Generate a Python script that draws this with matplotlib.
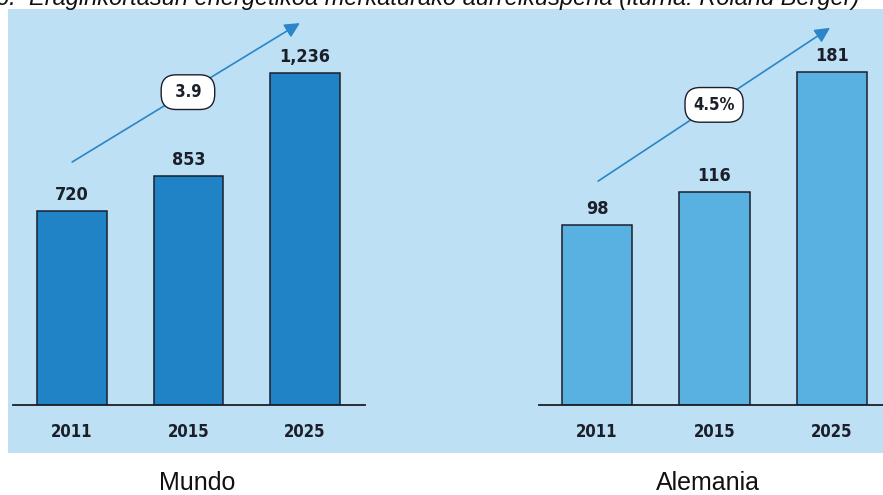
import matplotlib.pyplot as plt
from matplotlib.patches import Rectangle

# ── Data ──────────────────────────────────────────────────
years = ["2011", "2015", "2025"]
mundo = [720, 853, 1236]
alemania = [98, 116, 181]
mundo_growth = "3.9"
alemania_growth = "4.5%"
mundo_labels = ["720", "853", "1,236"]
alemania_labels = ["98", "116", "181"]

TITLE = "6.  Eraginkortasun energetikoa merkaturako aurreikuspena (iturria: Roland Berger)"

BG = "#bde0f4"
DARK = "#1b1f2a"
ARROW = "#2a86c8"
COND = dict(family="DejaVu Sans", fontstretch="condensed")

W, H = 883, 495
fig = plt.figure(figsize=(W / 100, H / 100), dpi=100)
fig.patch.set_facecolor("white")

def fx(px):
    return px / W

def fy(py):
    return 1 - py / H

# light blue panel behind both charts
fig.add_artist(Rectangle((fx(8), fy(453)), fx(875), (453 - 9) / H,
                         transform=fig.transFigure, facecolor=BG,
                         edgecolor="none", zorder=0))

fig.text(fx(-4), fy(5), TITLE, fontsize=17, style="italic",
         family="Liberation Sans", color="#111111", ha="left", va="baseline")


def panel(x0, x1, vals, labels, color, ytop, xmin, xmax, growth, arrow, box):
    ax = fig.add_axes([fx(x0), fy(405), fx(x1 - x0), (405 - 8) / H])
    ax.set_facecolor("none")
    x = range(len(vals))
    ax.bar(x, vals, width=0.6, color=color, edgecolor=DARK, linewidth=1.1,
           zorder=2)
    for xi, v, lab in zip(x, vals, labels):
        ax.annotate(lab, (xi, v), xytext=(0, 5), textcoords="offset points",
                    ha="center", va="bottom", fontsize=13, fontweight="semibold",
                    color=DARK, **COND)
    ax.set_xlim(xmin, xmax)
    ax.set_ylim(0, ytop)
    for s in ["top", "right", "left"]:
        ax.spines[s].set_visible(False)
    ax.spines["bottom"].set_color(DARK)
    ax.spines["bottom"].set_linewidth(1.3)
    ax.set_yticks([])
    ax.set_xticks(list(x))
    ax.set_xticklabels(years, fontsize=12, fontweight="semibold", color=DARK,
                       **COND)
    ax.tick_params(axis="x", length=0, pad=13)

    (sx, sy), (ex, ey) = arrow
    ax.annotate("", xy=(ex, ey), xytext=(sx, sy), xycoords="axes fraction",
                textcoords="axes fraction",
                arrowprops=dict(arrowstyle="-|>,head_length=0.9,head_width=0.45",
                                color=ARROW, lw=1.2, shrinkA=0, shrinkB=0),
                zorder=3)
    ax.text(box[0], box[1], growth, transform=ax.transAxes, ha="center",
            va="center", fontsize=12, fontweight="semibold", color=DARK,
            zorder=4,
            bbox=dict(boxstyle="round,pad=0.5,rounding_size=0.9",
                      facecolor="white", edgecolor=DARK, linewidth=1.0),
            **COND)
    return ax


# Mundo: 0.269 px per unit
panel(13, 365, mundo, mundo_labels, "#2083c6", 397 / 0.2690,
      -0.506, 2.515, " " + mundo_growth + " ",
      ((0.168, 0.612), (0.815, 0.962)), (0.497, 0.788))

# Alemania: 1.84 px per unit
panel(539, 883, alemania, alemania_labels, "#58b1e0", 397 / 1.840,
      -0.494, 2.434, alemania_growth,
      ((0.172, 0.564), (0.846, 0.950)), (0.509, 0.756))

fig.text(fx(197), fy(483), "Mundo", fontsize=18, family="Liberation Sans",
         ha="center", va="center", color="#111111")
fig.text(fx(708), fy(483), "Alemania", fontsize=18, family="Liberation Sans",
         ha="center", va="center", color="#111111")

fig.savefig("out.png", dpi=100)
